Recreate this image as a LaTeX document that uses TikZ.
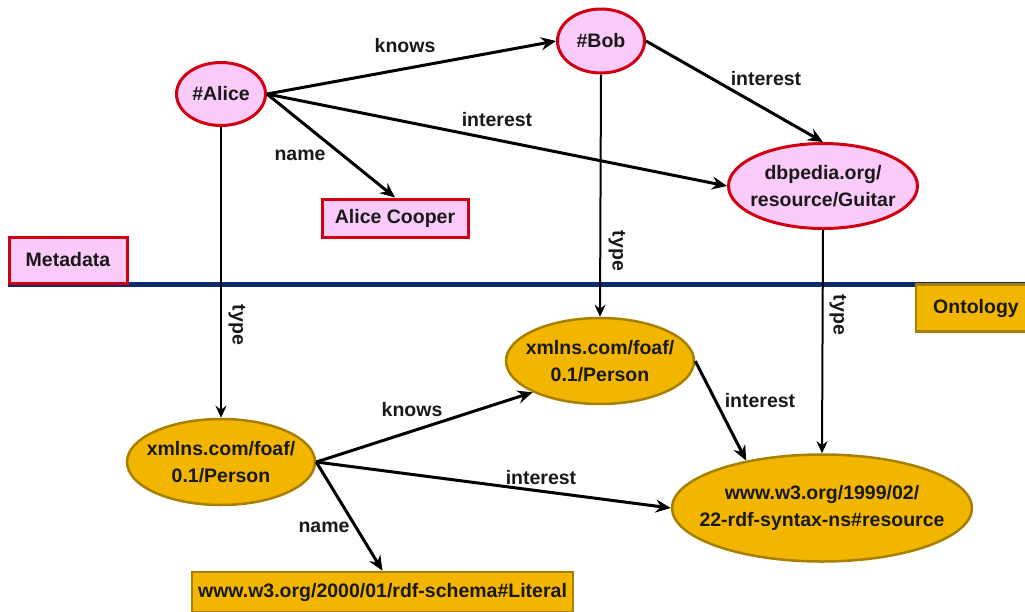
\documentclass[tikz,border=0pt]{standalone}
\usepackage{fontspec}
\setmainfont{Liberation Sans}
\usetikzlibrary{shapes.geometric,arrows.meta}

\definecolor{pinkfill}{HTML}{FACAF8}
\definecolor{redline}{HTML}{D00010}
\definecolor{goldfill}{HTML}{F2B600}
\definecolor{goldline}{HTML}{A88000}
\definecolor{navy}{HTML}{0C2A6C}

\tikzset{
  txt/.style={font=\fontsize{19.5}{27}\selectfont\bfseries, align=center, text=black!90},
  meta/.style={fill=pinkfill, draw=redline, line width=3pt},
  onto/.style={fill=goldfill, draw=goldline, line width=2.5pt},
  res/.style={ellipse, inner sep=0pt},
  lit/.style={txt, rectangle, inner sep=0pt},
  rel/.style={line width=3pt, -{Stealth[length=15pt,width=13pt,inset=5pt]}},
  typ/.style={line width=2pt, -{Stealth[length=12pt,width=11pt,inset=4pt]}},
  lab/.style={txt, inner sep=1pt},
}

\begin{document}
\begin{tikzpicture}[x=1pt,y=-1pt]
  \useasboundingbox (0,0) rectangle (1025,611);
  \clip (0,0) rectangle (1025,611);

  % layer divider
  \draw[navy, line width=5pt] (8,284) -- (1030,284);

  % instance layer: resources as ellipses, literals as boxes
  \node[meta, res, minimum width=89, minimum height=63] (alice) at (221,94) {};
  \node[txt] (alice-t) at (alice) {\#Alice};
  \node[meta, res, minimum width=87, minimum height=64] (bob) at (601,41) {};
  \node[txt] (bob-t) at (bob) {\#Bob};
  \node[meta, res, minimum width=189, minimum height=85] (guitar) at (823,186) {};
  \node[txt] (guitar-t) at (guitar) {dbpedia.org/\\resource/Guitar};
  \node[meta, lit, minimum width=146, minimum height=38] (cooper) at (395,218) {Alice Cooper};
  \node[meta, lit, minimum width=118, minimum height=46] (metadata) at (68,260) {Metadata};

  % schema layer
  \node[onto, res, minimum width=188, minimum height=86] (person1) at (221,462) {};
  \node[txt] (person1-t) at (person1) {xmlns.com/foaf/\\0.1/Person};
  \node[onto, res, minimum width=188, minimum height=86] (person2) at (600,361) {};
  \node[txt] (person2-t) at (person2) {xmlns.com/foaf/\\0.1/Person};
  \node[onto, res, minimum width=300, minimum height=107] (resource) at (822,508) {};
  \node[txt] (resource-t) at (resource) {www.w3.org/1999/02/\\22-rdf-syntax-ns\#resource};
  \node[onto, lit, minimum width=381, minimum height=40] (literal) at (382.5,592) {www.w3.org/2000/01/rdf-schema\#Literal};
  \node[onto, lit, minimum width=120, minimum height=47] (ontology) at (976,308) {Ontology};

  % instance relations
  \draw[rel] (alice.east) -- (bob.west);
  \draw[rel] (alice.east) -- (guitar.west);
  \draw[rel] (alice.east) -- (cooper.north);
  \draw[rel] (bob.east) -- (guitar.north);

  % rdf:type links
  \draw[typ] (alice.south) -- (person1.north);
  \draw[typ] (bob.south) -- (person2.north);
  \draw[typ] (guitar.south) -- (resource.north);

  % schema relations
  \draw[rel] (person1.east) -- (person2.south west);
  \draw[rel] (person1.east) -- (resource.west);
  \draw[rel] (person1.east) -- (literal.north);
  \draw[rel] (person2.east) -- (resource.148);

  % edge labels
  \node[lab] (l1) at (405,46) {knows};
  \node[lab] (l2) at (497,120) {interest};
  \node[lab] (l3) at (300,155) {name};
  \node[lab] (l4) at (766,79) {interest};
  \node[lab, rotate=-90] (l5) at (237,325) {type};
  \node[lab, rotate=-90] (l6) at (617,251) {type};
  \node[lab, rotate=-90] (l7) at (838,315) {type};
  \node[lab] (l8) at (412,410) {knows};
  \node[lab] (l9) at (541,478) {interest};
  \node[lab] (l10) at (324,527) {name};
  \node[lab] (l11) at (760,401) {interest};
\end{tikzpicture}
\end{document}
